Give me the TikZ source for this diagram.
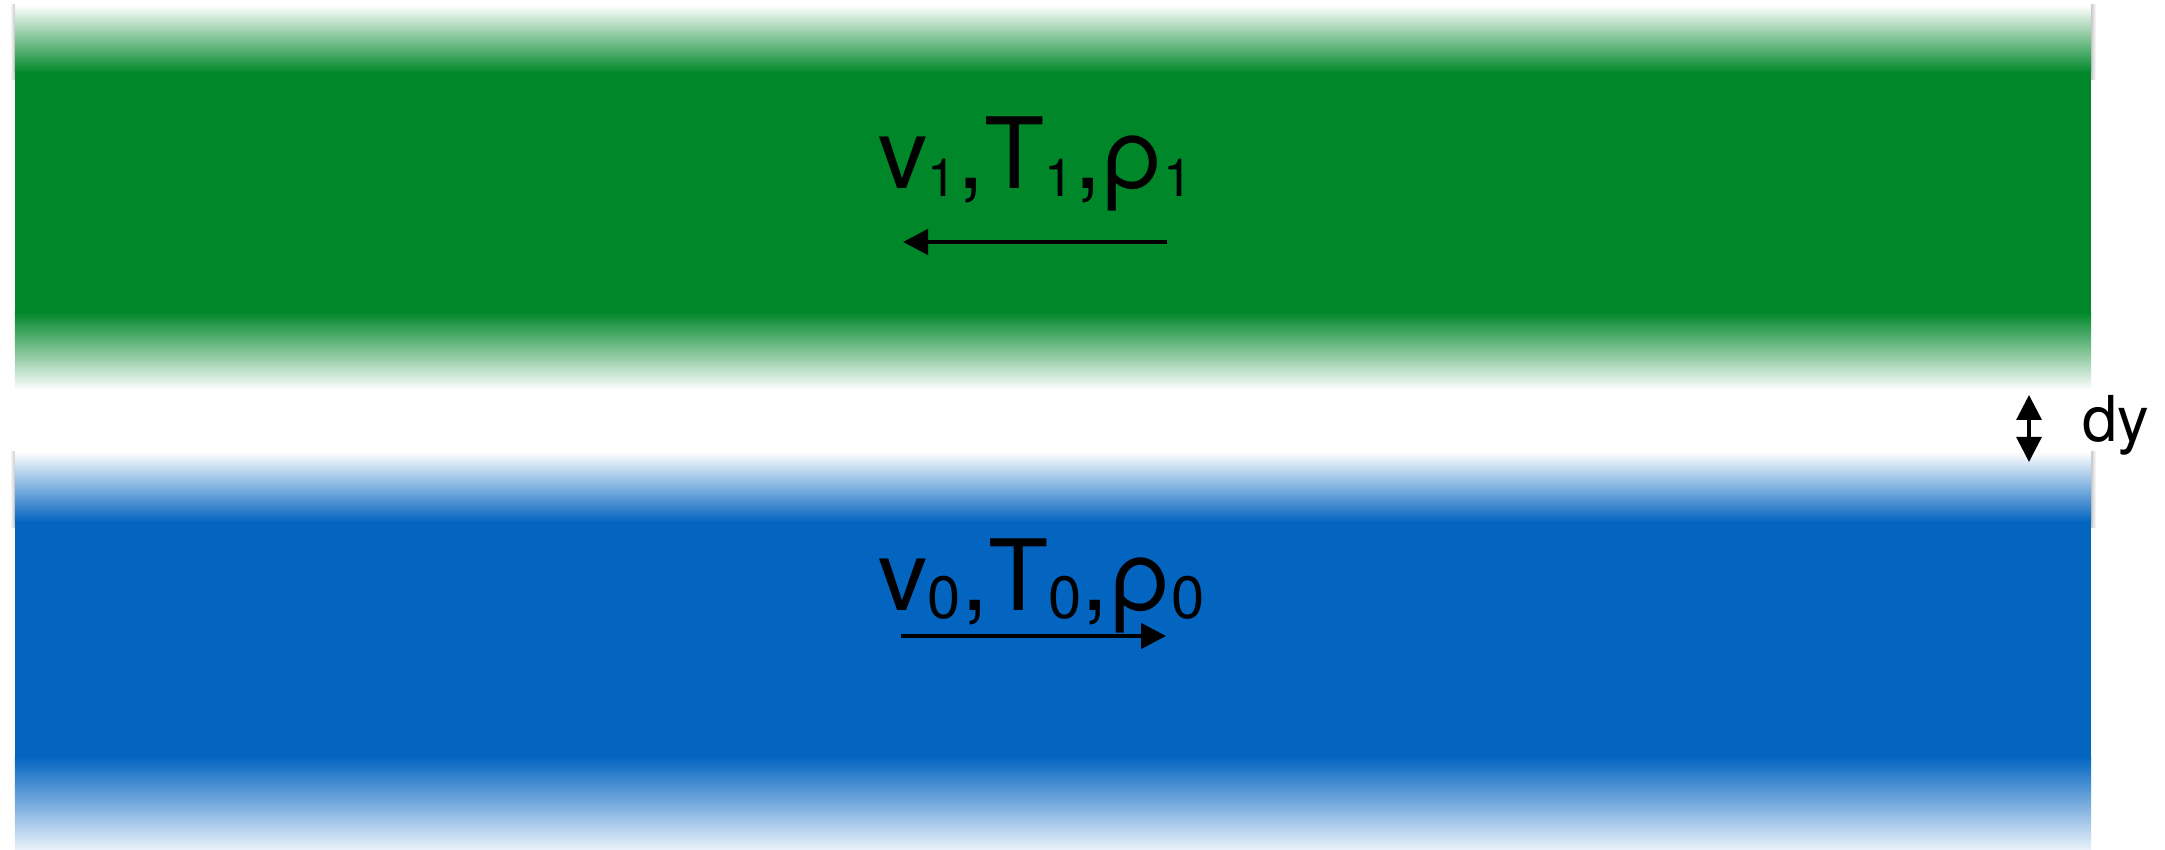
\documentclass[tikz,border=0pt]{standalone}
\usepackage{fontspec}
\setmainfont{TeX Gyre Heros}
\usepackage{xcolor}
\usetikzlibrary{arrows.meta,positioning}
\definecolor{layergreen}{RGB}{0,135,42}
\definecolor{layerblue}{RGB}{3,101,192}
\newcommand{\lsub}[2]{{\fontsize{#1}{#1}\selectfont\raisebox{-0.08cm}{#2}}}

\begin{document}
\begin{tikzpicture}[
x=1cm,
y=1cm,
statelbl/.style={font=\fontsize{28}{30}\selectfont,anchor=base west,inner sep=0pt},
gaplbl/.style={font=\fontsize{18}{20}\selectfont,anchor=base west,inner sep=0pt},
flowarr/.style={-{Triangle[length=0.25cm,width=0.25cm]},line width=1.2pt},
gaparr/.style={{Triangle[length=0.25cm,width=0.25cm]}-{Triangle[length=0.25cm,width=0.25cm]},line width=0.9pt},
edgeshade/.style={draw=none,left color=white,right color=black!22}
]
\useasboundingbox (0,0) rectangle (21.65,8.5);

\shade[edgeshade] (0.10,8.45) rectangle (0.15,7.70);
\shade[edgeshade,left color=black!22,right color=white] (20.91,8.45) rectangle (20.96,7.70);
\shade[edgeshade] (0.10,3.98) rectangle (0.15,3.22);
\shade[edgeshade,left color=black!22,right color=white] (20.91,3.98) rectangle (20.96,3.22);

\shade[top color=white,bottom color=layergreen] (0.15,8.45) rectangle (20.91,7.77);
\fill[layergreen] (0.15,7.775) rectangle (20.91,5.375);
\shade[top color=layergreen,bottom color=white] (0.15,5.38) rectangle (20.91,4.60);

\shade[top color=white,bottom color=layerblue] (0.15,3.98) rectangle (20.91,3.28);
\fill[layerblue] (0.15,3.285) rectangle (20.91,0.925);
\shade[top color=layerblue,bottom color=layerblue!8] (0.15,0.93) rectangle (20.91,0);

\node[statelbl] (upper) at (8.78,6.61) {v\lsub{15}{1},T\lsub{15}{1},ρ\lsub{15}{1}};
\node[statelbl] (lower) at (8.78,2.39) {v\lsub{17}{0},T\lsub{17}{0},ρ\lsub{17}{0}};
\node[gaplbl] (gap) at (20.82,4.08) {dy};

\coordinate (uppertail) at (11.67,6.08);
\coordinate (upperhead) at (9.03,6.08);
\coordinate (lowertail) at (9.01,2.14);
\coordinate (lowerhead) at (11.66,2.14);
\coordinate (gaptop) at (20.29,4.55);
\coordinate (gapbot) at (20.29,3.88);

\draw[flowarr] (uppertail) -- (upperhead);
\draw[flowarr] (lowertail) -- (lowerhead);
\draw[gaparr] (gaptop) -- (gapbot);
\end{tikzpicture}
\end{document}
